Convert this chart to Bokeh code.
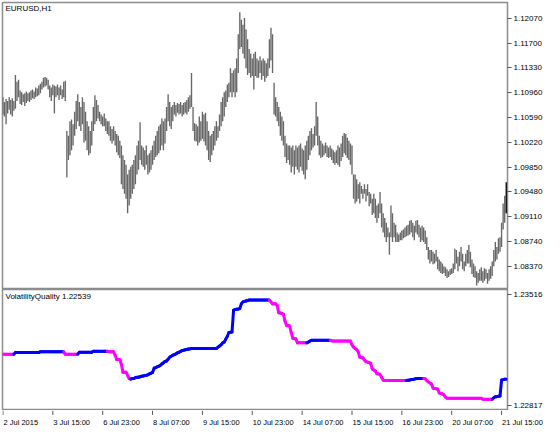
from bokeh.plotting import figure
from bokeh.models import Range1d, FixedTicker, PrintfTickFormatter, Label, ColumnDataSource
from bokeh.core.properties import value
from bokeh.layouts import column
from bokeh.embed import file_html
from bokeh.resources import INLINE

symbol_title = "EURUSD,H1"
indicator_title = "VolatilityQuality 1.22539"

# H1 bars, index 0 = 2 Jul 2015 07:00
bar_high = [
    1.10893, 1.10821, 1.10864, 1.10835, 1.10893, 1.10849, 1.10878, 1.10835, 1.11224, 1.11123,
    1.11152, 1.10993, 1.10965, 1.10936, 1.10950, 1.10979, 1.10950, 1.10965, 1.10993, 1.11008,
    1.10979, 1.11037, 1.11022, 1.11066, 1.11094, 1.11123, 1.11181, 1.11195, 1.11181, 1.11152,
    1.11066, 1.11037, 1.11080, 1.11066, 1.11051, 1.11080, 1.11037, 1.11066, 1.11008, 1.11123,
    1.11138, 1.10388, 1.10316, 1.10532, 1.10561, 1.10489, 1.10676, 1.10835, 1.10936, 1.10821,
    1.10748, 1.10893, 1.10821, 1.10676, 1.10532, 1.10460, 1.10388, 1.10532, 1.10748, 1.10921,
    1.10849, 1.10777, 1.10676, 1.10633, 1.10604, 1.10648, 1.10575, 1.10532, 1.10532, 1.10460,
    1.10417, 1.10460, 1.10388, 1.10345, 1.10316, 1.10244, 1.10172, 1.10028, 1.09956, 1.09884,
    1.09739, 1.09811, 1.09855, 1.09884, 1.09956, 1.10028, 1.10172, 1.10244, 1.10518, 1.10172,
    1.10143, 1.10100, 1.10172, 1.10028, 1.10057, 1.10100, 1.10172, 1.10244, 1.10316, 1.10388,
    1.10460, 1.10489, 1.10575, 1.10532, 1.10575, 1.10748, 1.10936, 1.10821, 1.10748, 1.10777,
    1.10821, 1.10777, 1.10806, 1.10792, 1.10821, 1.10777, 1.10806, 1.10821, 1.10849, 1.10893,
    1.10921, 1.11253, 1.10748, 1.10503, 1.10489, 1.10460, 1.10604, 1.10532, 1.10676, 1.10633,
    1.10662, 1.10532, 1.10388, 1.10316, 1.10345, 1.10388, 1.10460, 1.10532, 1.10460, 1.10633,
    1.10821, 1.10893, 1.10965, 1.10993, 1.11080, 1.11109, 1.11325, 1.11253, 1.11296, 1.11325,
    1.11469, 1.11830, 1.12161, 1.12046, 1.11974, 1.12075, 1.11902, 1.11758, 1.11613, 1.11541,
    1.11469, 1.11541, 1.11570, 1.11469, 1.11440, 1.11498, 1.11440, 1.11469, 1.11440, 1.11397,
    1.11469, 1.11758, 1.11930, 1.11830, 1.11109, 1.10893, 1.10821, 1.10748, 1.10676, 1.10604,
    1.10532, 1.10316, 1.10201, 1.10172, 1.10172, 1.10143, 1.10172, 1.10100, 1.10172, 1.10143,
    1.10172, 1.10201, 1.10129, 1.10100, 1.10172, 1.10244, 1.10316, 1.10388, 1.10431, 1.10345,
    1.10460, 1.10821, 1.10604, 1.10316, 1.10244, 1.10201, 1.10172, 1.10215, 1.10172, 1.10143,
    1.10172, 1.10129, 1.10100, 1.10071, 1.10100, 1.10172, 1.10143, 1.10201, 1.10316, 1.10359,
    1.10345, 1.10287, 1.10244, 1.10201, 1.10172, 1.09739, 1.09739, 1.09667, 1.09595, 1.09624,
    1.09566, 1.09523, 1.09595, 1.09523, 1.09595, 1.09480, 1.09451, 1.09379, 1.09451, 1.09379,
    1.09278, 1.09307, 1.09480, 1.09307, 1.09163, 1.09091, 1.09019, 1.08947, 1.08875, 1.09278,
    1.09163, 1.09019, 1.08990, 1.08875, 1.08846, 1.08875, 1.08904, 1.08918, 1.08947, 1.08976,
    1.08990, 1.09048, 1.09062, 1.09019, 1.08976, 1.09048, 1.09062, 1.08990, 1.08947, 1.08976,
    1.08947, 1.08904, 1.08803, 1.08658, 1.08615, 1.08615, 1.08586, 1.08558, 1.08615, 1.08514,
    1.08471, 1.08442, 1.08413, 1.08370, 1.08355, 1.08327, 1.08298, 1.08327, 1.08341, 1.08413,
    1.08630, 1.08615, 1.08514, 1.08586, 1.08658, 1.08558, 1.08442, 1.08558, 1.08615, 1.08687,
    1.08586, 1.08471, 1.08413, 1.08370, 1.08298, 1.08269, 1.08327, 1.08355, 1.08298, 1.08341,
    1.08327, 1.08269, 1.08327, 1.08370, 1.08442, 1.08615, 1.08731, 1.08658, 1.08788, 1.08803,
    1.09019, 1.09307, 1.09422, 1.09624,
]
bar_low = [
    1.10633, 1.10604, 1.10489, 1.10648, 1.10705, 1.10633, 1.10604, 1.10691, 1.10720, 1.10835,
    1.10893, 1.10792, 1.10777, 1.10821, 1.10763, 1.10806, 1.10835, 1.10821, 1.10849, 1.10878,
    1.10864, 1.10893, 1.10907, 1.10921, 1.10950, 1.11008, 1.11037, 1.11051, 1.11066, 1.11008,
    1.10893, 1.10835, 1.10921, 1.10648, 1.10893, 1.10921, 1.10849, 1.10921, 1.10864, 1.10893,
    1.10835, 1.09696, 1.09956, 1.10028, 1.10100, 1.10172, 1.10316, 1.10417, 1.10532, 1.10460,
    1.10388, 1.10489, 1.10215, 1.10244, 1.10100, 1.10028, 1.10057, 1.10172, 1.10388, 1.10489,
    1.10532, 1.10575, 1.10532, 1.10489, 1.10460, 1.10460, 1.10388, 1.10345, 1.10316, 1.10244,
    1.10201, 1.10244, 1.10172, 1.10071, 1.10028, 1.09985, 1.09595, 1.09523, 1.09451, 1.09379,
    1.09163, 1.09278, 1.09379, 1.09451, 1.09523, 1.09595, 1.09739, 1.09811, 1.09956, 1.09884,
    1.09855, 1.09811, 1.09884, 1.09739, 1.09768, 1.09811, 1.09884, 1.09956, 1.09999, 1.10028,
    1.10057, 1.10100, 1.10172, 1.10100, 1.10201, 1.10388, 1.10532, 1.10460, 1.10417, 1.10532,
    1.10633, 1.10604, 1.10662, 1.10633, 1.10648, 1.10604, 1.10633, 1.10662, 1.10633, 1.10676,
    1.10720, 1.10748, 1.10388, 1.10244, 1.10230, 1.10172, 1.10215, 1.10244, 1.10273, 1.10230,
    1.10172, 1.10100, 1.09956, 1.09927, 1.10028, 1.10100, 1.10172, 1.10244, 1.10287, 1.10388,
    1.10460, 1.10532, 1.10604, 1.10748, 1.10821, 1.10893, 1.10965, 1.10893, 1.10965, 1.10893,
    1.10965, 1.11253, 1.11613, 1.11642, 1.11541, 1.11469, 1.11325, 1.11224, 1.11253, 1.11181,
    1.11210, 1.11008, 1.11210, 1.11181, 1.11181, 1.11253, 1.11152, 1.11210, 1.11123, 1.11181,
    1.11210, 1.11325, 1.11440, 1.11253, 1.10633, 1.10604, 1.10532, 1.10460, 1.10316, 1.10244,
    1.10172, 1.09999, 1.09912, 1.09956, 1.09884, 1.09768, 1.09855, 1.09739, 1.09855, 1.09811,
    1.09768, 1.09855, 1.09797, 1.09739, 1.09667, 1.09811, 1.09956, 1.10028, 1.10100, 1.10143,
    1.10172, 1.10316, 1.10172, 1.10028, 1.09985, 1.09999, 1.10028, 1.10057, 1.09999, 1.09985,
    1.09999, 1.09956, 1.09912, 1.09884, 1.09912, 1.09884, 1.09855, 1.09941, 1.09999, 1.10057,
    1.10028, 1.09985, 1.09956, 1.09884, 1.09739, 1.09379, 1.09307, 1.09336, 1.09379, 1.09307,
    1.09451, 1.09379, 1.09451, 1.09336, 1.09422, 1.09264, 1.09307, 1.09134, 1.09163, 1.09091,
    1.09019, 1.09091, 1.09163, 1.08947, 1.08875, 1.08803, 1.08731, 1.08803, 1.08543, 1.08803,
    1.08731, 1.08803, 1.08731, 1.08731, 1.08731, 1.08759, 1.08759, 1.08788, 1.08803, 1.08817,
    1.08831, 1.08846, 1.08875, 1.08803, 1.08759, 1.08875, 1.08846, 1.08803, 1.08731, 1.08759,
    1.08731, 1.08702, 1.08615, 1.08471, 1.08413, 1.08442, 1.08399, 1.08413, 1.08442, 1.08327,
    1.08298, 1.08269, 1.08255, 1.08269, 1.08226, 1.08197, 1.08212, 1.08240, 1.08255, 1.08269,
    1.08327, 1.08413, 1.08298, 1.08370, 1.08442, 1.08327, 1.08298, 1.08370, 1.08413, 1.08413,
    1.08355, 1.08255, 1.08212, 1.08197, 1.08082, 1.08125, 1.08154, 1.08154, 1.08125, 1.08154,
    1.08183, 1.08111, 1.08154, 1.08183, 1.08226, 1.08370, 1.08442, 1.08471, 1.08558, 1.08586,
    1.08658, 1.08918, 1.09019, 1.09163,
]

# VolatilityQuality value per bar
vq_value = [
    1.23140, 1.23140, 1.23140, 1.23140, 1.23140, 1.23140, 1.23140, 1.23140,
    1.23151, 1.23151, 1.23151, 1.23151, 1.23151, 1.23151, 1.23151, 1.23151,
    1.23151, 1.23151, 1.23151, 1.23151, 1.23151, 1.23151, 1.23151, 1.23151,
    1.23155, 1.23155, 1.23155, 1.23155, 1.23155, 1.23155, 1.23155, 1.23155,
    1.23155, 1.23155, 1.23155, 1.23155, 1.23155, 1.23155, 1.23155, 1.23155,
    1.23140, 1.23140, 1.23140, 1.23140, 1.23140, 1.23140, 1.23140, 1.23140, 1.23140,
    1.23152, 1.23152, 1.23152, 1.23152, 1.23152, 1.23152, 1.23152, 1.23152, 1.23152,
    1.23158, 1.23158, 1.23158, 1.23158, 1.23158, 1.23158, 1.23158, 1.23158, 1.23158, 1.23158,
    1.23155, 1.23155, 1.23155, 1.23155,
    1.23133, 1.23107, 1.23107, 1.23107, 1.23077, 1.23027, 1.23027, 1.23027, 1.23007, 1.22987, 1.22983,
    1.22987, 1.22987, 1.22992, 1.22995, 1.22995, 1.22998, 1.23001, 1.23003, 1.23005, 1.23007,
    1.23010, 1.23016, 1.23020, 1.23025, 1.23052, 1.23055, 1.23061, 1.23064, 1.23070, 1.23079,
    1.23085, 1.23094, 1.23097, 1.23109, 1.23121, 1.23127, 1.23133, 1.23137, 1.23142, 1.23148,
    1.23152, 1.23157, 1.23163, 1.23165, 1.23167, 1.23169, 1.23172, 1.23173,
    1.23175, 1.23175, 1.23175, 1.23175, 1.23175, 1.23175,
    1.23176, 1.23176, 1.23176, 1.23176, 1.23176, 1.23176, 1.23176, 1.23176, 1.23176, 1.23176, 1.23176,
    1.23184, 1.23191, 1.23199, 1.23211, 1.23216, 1.23234, 1.23252, 1.23276, 1.23278, 1.23279,
    1.23416, 1.23420, 1.23422, 1.23423, 1.23426, 1.23456, 1.23468, 1.23471, 1.23474, 1.23477,
    1.23480, 1.23480, 1.23480, 1.23480, 1.23480, 1.23480, 1.23480,
    1.23480, 1.23480, 1.23480, 1.23480, 1.23480, 1.23480, 1.23480,
    1.23468, 1.23456, 1.23456, 1.23456, 1.23446, 1.23400, 1.23399, 1.23396, 1.23390, 1.23348,
    1.23320, 1.23318, 1.23317, 1.23276, 1.23240, 1.23237, 1.23236,
    1.23211, 1.23211, 1.23211, 1.23211, 1.23211, 1.23211, 1.23211,
    1.23216, 1.23222,
    1.23227, 1.23227, 1.23227, 1.23227, 1.23227, 1.23227, 1.23227, 1.23227, 1.23227, 1.23227,
    1.23227, 1.23227, 1.23227,
    1.23224,
    1.23222, 1.23222, 1.23222, 1.23222, 1.23222, 1.23222, 1.23222, 1.23222, 1.23222, 1.23222,
    1.23222, 1.23222,
    1.23199, 1.23184, 1.23176, 1.23169, 1.23154, 1.23121, 1.23118, 1.23117, 1.23103, 1.23093,
    1.23090, 1.23087, 1.23082, 1.23047, 1.23040, 1.23034, 1.23017, 1.23016, 1.23013, 1.22995,
    1.22977,
    1.22974, 1.22974, 1.22974, 1.22974, 1.22974, 1.22974, 1.22974, 1.22974, 1.22974, 1.22974,
    1.22974, 1.22974, 1.22974, 1.22974, 1.22974,
    1.22976, 1.22977, 1.22980, 1.22981, 1.22983, 1.22986,
    1.22987, 1.22987, 1.22987, 1.22987, 1.22987,
    1.22985, 1.22974, 1.22965, 1.22959, 1.22953, 1.22927, 1.22924, 1.22923, 1.22921, 1.22897,
    1.22893, 1.22890, 1.22884, 1.22869,
    1.22863, 1.22863, 1.22863, 1.22863, 1.22863, 1.22863, 1.22863, 1.22863, 1.22863, 1.22863,
    1.22863, 1.22863, 1.22863, 1.22863, 1.22863, 1.22863, 1.22863, 1.22863, 1.22863, 1.22863,
    1.22863, 1.22863, 1.22863,
    1.22857, 1.22857, 1.22857, 1.22857, 1.22857, 1.22857, 1.22857,
    1.22866, 1.22872, 1.22873, 1.22875, 1.22877, 1.22977, 1.22980, 1.22983, 1.22983,
]
vq_first_trend = -1  # first bars drawn in the "falling" colour

time_tick_bars = [0, 32, 64, 96, 128, 160, 192, 224, 256, 288, 320]
time_tick_labels = ["2 Jul 2015", "3 Jul 15:00", "6 Jul 23:00", "8 Jul 07:00", "9 Jul 15:00",
                    "10 Jul 23:00", "14 Jul 07:00", "15 Jul 15:00", "16 Jul 23:00",
                    "20 Jul 07:00", "21 Jul 15:00"]
price_ticks = [1.12070, 1.11700, 1.11330, 1.10960, 1.10590, 1.10220,
               1.09850, 1.09480, 1.09110, 1.08740, 1.08370]
vq_ticks = [1.23516, 1.22817]

assert len(bar_high) == len(bar_low) == len(vq_value), (len(bar_high), len(bar_low), len(vq_value))

FONT = "Liberation Sans"
FS = "8px"
FS_TIME = "7.5px"
FRAME_W = 505
RIGHT_W = 37
H_MAIN = 287
H_SUB = 121
H_TIME = 15
FRAME_COLOR = "#8c8c8c"
TICK_COLOR = "#555555"
UP_COLOR = "#0000ff"
DOWN_COLOR = "#ff00ff"

n = len(bar_high)
idx = list(range(n))
X0, X1 = -0.3, 323.8
x_range = Range1d(X0, X1)
px_per_bar = FRAME_W / (X1 - X0)


def style_right_axis(ax, ticks):
    ax.ticker = FixedTicker(ticks=ticks)
    ax.formatter = PrintfTickFormatter(format="%.5f")
    ax.major_label_text_font = FONT
    ax.major_label_text_font_size = FS
    ax.major_label_text_color = "black"
    ax.major_tick_in = 0
    ax.major_tick_out = 4
    ax.major_tick_line_color = TICK_COLOR
    ax.minor_tick_line_color = None
    ax.axis_line_color = None
    ax.major_label_standoff = 2


# ---- main price panel
p1 = figure(frame_width=FRAME_W, frame_height=H_MAIN, x_range=x_range,
            y_range=Range1d(1.08024, 1.12305), y_axis_location="right",
            x_axis_location=None, output_backend="svg", toolbar_location=None,
            min_border_left=2, min_border_right=RIGHT_W, min_border_top=2, min_border_bottom=0)
p1.grid.visible = False
p1.outline_line_color = FRAME_COLOR
p1.outline_line_width = 1.5
style_right_axis(p1.yaxis[0], price_ticks)

bar_color = ["#666666"] * (n - 1) + ["#000000"]
bars = ColumnDataSource(dict(x=idx, high=bar_high, low=bar_low, color=bar_color))
p1.segment(x0="x", y0="low", x1="x", y1="high", line_color="color", line_width=1.35, source=bars)
p1.add_layout(Label(x=3, y=H_MAIN - 1, x_units="screen", y_units="screen", text=symbol_title,
                    text_baseline="top", text_font=FONT, text_font_size=FS, text_color="black"))

# ---- indicator panel
p2 = figure(frame_width=FRAME_W, frame_height=H_SUB, x_range=x_range,
            y_range=Range1d(1.22786, 1.23546), y_axis_location="right",
            x_axis_location=None, output_backend="svg", toolbar_location=None,
            min_border_left=2, min_border_right=RIGHT_W, min_border_top=0, min_border_bottom=0)
p2.grid.visible = False
p2.outline_line_color = FRAME_COLOR
p2.outline_line_width = 1.5
style_right_axis(p2.yaxis[0], vq_ticks)

# colour of each step: rising -> blue, falling -> magenta, flat -> keep previous
trend = [vq_first_trend]
for i in range(1, n):
    if vq_value[i] > vq_value[i - 1]:
        trend.append(1)
    elif vq_value[i] < vq_value[i - 1]:
        trend.append(-1)
    else:
        trend.append(trend[-1])
seg = ColumnDataSource(dict(
    x0=idx[:-1], x1=idx[1:], y0=vq_value[:-1], y1=vq_value[1:],
    color=[UP_COLOR if t > 0 else DOWN_COLOR for t in trend[1:]]))
p2.segment(x0="x0", y0="y0", x1="x1", y1="y1", line_color="color", line_width=3,
           line_cap="round", source=seg)
p2.add_layout(Label(x=3, y=H_SUB - 2, x_units="screen", y_units="screen", text=indicator_title,
                    text_baseline="top", text_font=FONT, text_font_size=FS, text_color="black"))

# ---- time scale strip (same bar-to-pixel scale, wider frame so the last label fits)
TIME_W = FRAME_W + RIGHT_W
p3 = figure(frame_width=TIME_W, frame_height=H_TIME,
            x_range=Range1d(X0, X0 + TIME_W / px_per_bar), y_range=Range1d(-H_TIME, 0),
            x_axis_location=None, y_axis_location=None, output_backend="svg",
            toolbar_location=None, min_border_left=2, min_border_right=0,
            min_border_top=0, min_border_bottom=0, outline_line_color=None)
p3.grid.visible = False
ticks_src = ColumnDataSource(dict(x=time_tick_bars, text=time_tick_labels))
p3.segment(x0="x", y0=0, x1="x", y1=-4.5, line_color=TICK_COLOR, line_width=1, source=ticks_src)
p3.text(x="x", y=-11.5, text="text", source=ticks_src, x_offset=0.5, text_align="left",
        text_baseline="alphabetic", text_font=value(FONT), text_font_size=value(FS_TIME),
        text_color="black")

layout = column(p1, p2, p3, spacing=0)
open("out.html", "w").write(file_html(layout, INLINE))
